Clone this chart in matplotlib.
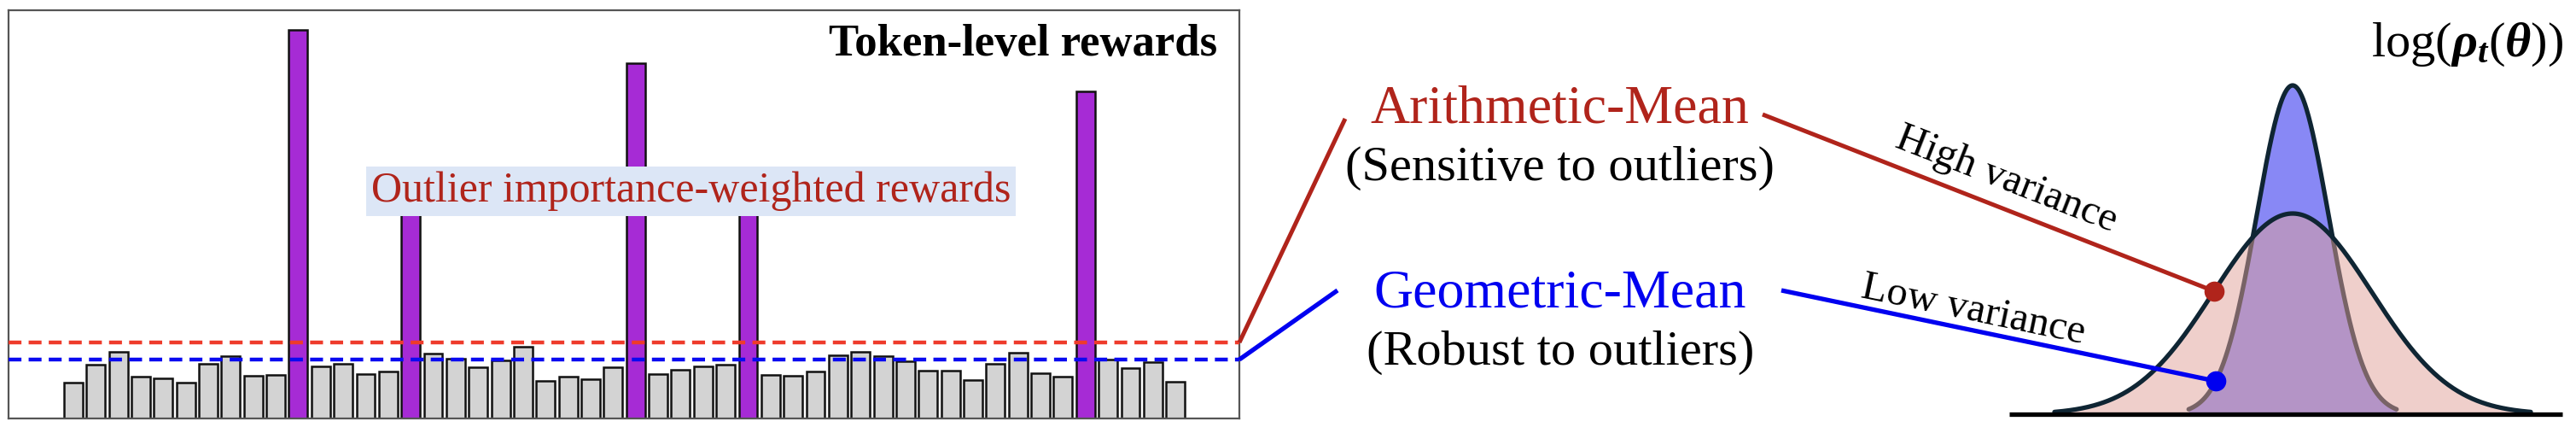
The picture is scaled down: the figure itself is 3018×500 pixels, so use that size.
import numpy as np
import matplotlib
matplotlib.use('Agg')
import matplotlib.pyplot as plt

W, H = 3018, 500

# ---------------- data ----------------
token_rewards = [42, 63, 78, 49, 47, 42, 64, 73, 50, 51,
                 455, 61, 64, 52, 55, 275, 76, 70, 60, 68,
                 84, 44, 49, 46, 60, 416, 52, 57, 61, 63,
                 275, 51, 50, 55, 74, 78, 73, 67, 56, 56,
                 45, 64, 77, 53, 49, 383, 69, 59, 66, 43]
outlier_idx = [10, 15, 25, 30, 45]
arith_mean = 89
geo_mean = 69

title_text = "Token-level rewards"
outlier_label = "Outlier importance-weighted rewards"
am_label = "Arithmetic-Mean"
am_sub = "(Sensitive to outliers)"
gm_label = "Geometric-Mean"
gm_sub = "(Robust to outliers)"
high_label = "High variance"
low_label = "Low variance"

# log-ratio distributions (wide = arithmetic, narrow = geometric)
dist_center = 2686
wide_sigma, wide_peak = 93, 235
narrow_sigma, narrow_peak = 42, 385
dist_base = 485

# ---------------- style ----------------
SERIF = 'Liberation Serif'
DARKRED = '#B0241B'
BLUE = '#0000F0'
EDGE = '#0F2533'

plt.rcParams['font.family'] = [SERIF, 'DejaVu Serif']
plt.rcParams['mathtext.fontset'] = 'custom'
plt.rcParams['mathtext.rm'] = SERIF
plt.rcParams['mathtext.it'] = SERIF + ':italic'
plt.rcParams['mathtext.bf'] = SERIF + ':bold'
has_bfit = 'mathtext.bfit' in plt.rcParams
if has_bfit:
    plt.rcParams['mathtext.bfit'] = SERIF + ':italic:bold'

fig = plt.figure(figsize=(W / 100, H / 100), dpi=100)

# ---------------- bar panel ----------------
ax = fig.add_axes([10 / W, 10 / H, 1442 / W, 478 / H])
x = np.arange(len(token_rewards))
colors = ['#A62BD5' if i in outlier_idx else '#D3D3D3' for i in x]
ax.bar(x, token_rewards, width=0.83, color=colors, edgecolor='#111111',
       linewidth=1.8, zorder=2)
ax.set_xlim(-2.88, 51.84)
ax.set_ylim(0, 478)
ax.axhline(arith_mean, color='#EE3B2B', lw=3.2, dashes=(3.4, 1.9), zorder=3)
ax.axhline(geo_mean, color='#0A0AF0', lw=3.2, dashes=(3.4, 1.9), zorder=3)
ax.set_xticks([])
ax.set_yticks([])
for s in ax.spines.values():
    s.set_color('#555555')
    s.set_linewidth(1.6)

# ---------------- overlay (pixel coordinates) ----------------
ov = fig.add_axes([0, 0, 1, 1], zorder=5)
ov.set_xlim(0, W)
ov.set_ylim(H, 0)
ov.axis('off')
ov.patch.set_alpha(0)

ov.text(1426, 65, title_text, ha='right', va='baseline', fontsize=38,
        fontweight='bold', color='black')
ov.text(435, 236, outlier_label, ha='left', va='baseline', fontsize=36,
        color=DARKRED,
        bbox=dict(boxstyle='square,pad=0.12', fc='#DCE6F6', ec='none'))

# middle labels
ov.text(1827, 143, am_label, ha='center', va='baseline', fontsize=46, color=DARKRED)
ov.text(1827, 211, am_sub, ha='center', va='baseline', fontsize=42, color='black')
ov.text(1828, 359, gm_label, ha='center', va='baseline', fontsize=46, color=BLUE)
ov.text(1828, 427, gm_sub, ha='center', va='baseline', fontsize=42, color='black')


def to_ov(px):
    return px[0], H - px[1]


xr = ax.get_xlim()[1]
am_start = to_ov(ax.transData.transform((xr, arith_mean)))
gm_start = to_ov(ax.transData.transform((xr, geo_mean)))


# distributions
def curve(xx, sigma, peak):
    return dist_base - peak * np.exp(-0.5 * ((xx - dist_center) / sigma) ** 2)


xn = np.linspace(dist_center - 2.9 * narrow_sigma, dist_center + 2.9 * narrow_sigma, 400)
yn = curve(xn, narrow_sigma, narrow_peak)
xw = np.linspace(dist_center - 3.0 * wide_sigma, dist_center + 3.0 * wide_sigma, 400)
yw = curve(xw, wide_sigma, wide_peak)

ov.fill_between(xn, yn, dist_base, color='#8888F5', lw=0, zorder=2)
ov.plot(xn, yn, color=EDGE, lw=3.8, zorder=2.5, solid_capstyle='round')
ov.fill_between(xw, yw, dist_base, color='#E1A199', alpha=0.5, lw=0, zorder=3)
ov.plot(xw, yw, color=EDGE, lw=3.8, zorder=4, solid_capstyle='round')
ov.plot([2354, 3002], [dist_base, dist_base], color='black', lw=3.8, zorder=4.5,
        solid_capstyle='butt')

# dots on curves
red_dot_x, blue_dot_x = 2594, 2596
red_dot = (red_dot_x, float(curve(red_dot_x, wide_sigma, wide_peak)))
blue_dot = (blue_dot_x, float(curve(blue_dot_x, narrow_sigma, narrow_peak)))

# connector lines
ov.plot([am_start[0], 1576], [am_start[1], 139], color=DARKRED, lw=3.6, zorder=6,
        solid_capstyle='butt')
ov.plot([gm_start[0], 1567], [gm_start[1], 340], color=BLUE, lw=3.8, zorder=6,
        solid_capstyle='butt')
ov.plot([2065, red_dot[0]], [134, red_dot[1]], color=DARKRED, lw=3.6, zorder=6,
        solid_capstyle='butt')
ov.plot([2087, blue_dot[0]], [340, blue_dot[1]], color=BLUE, lw=3.8, zorder=6,
        solid_capstyle='butt')
ov.plot(*red_dot, 'o', color=DARKRED, ms=16, zorder=7)
ov.plot(*blue_dot, 'o', color=BLUE, ms=16, zorder=7)

ang_high = -np.degrees(np.arctan2(red_dot[1] - 134, red_dot[0] - 2065))
ang_low = -np.degrees(np.arctan2(blue_dot[1] - 340, blue_dot[0] - 2087))
ov.text(2351, 210, high_label, ha='center', va='center', rotation=ang_high,
        rotation_mode='anchor', fontsize=35, color='black', zorder=6)
ov.text(2312, 363, low_label, ha='center', va='center', rotation=ang_low,
        rotation_mode='anchor', fontsize=35, color='black', zorder=6)

# title of distribution
if has_bfit:
    lab = r'$\log\!\left(\mathbfit{\rho}_{\mathbfit{t}}(\mathbfit{\theta})\right)$'
else:
    lab = r'$\log\!\left(\mathbf{\rho}_{\mathbf{t}}(\mathbf{\theta})\right)$'
tt = ov.text(3003, 66, lab, ha='right', va='baseline', fontsize=42, color='black')
try:
    fig.canvas.draw()
except Exception:
    tt.set_text(r'$\log(\rho_t(\theta))$')

fig.savefig('out.png', dpi=100)
